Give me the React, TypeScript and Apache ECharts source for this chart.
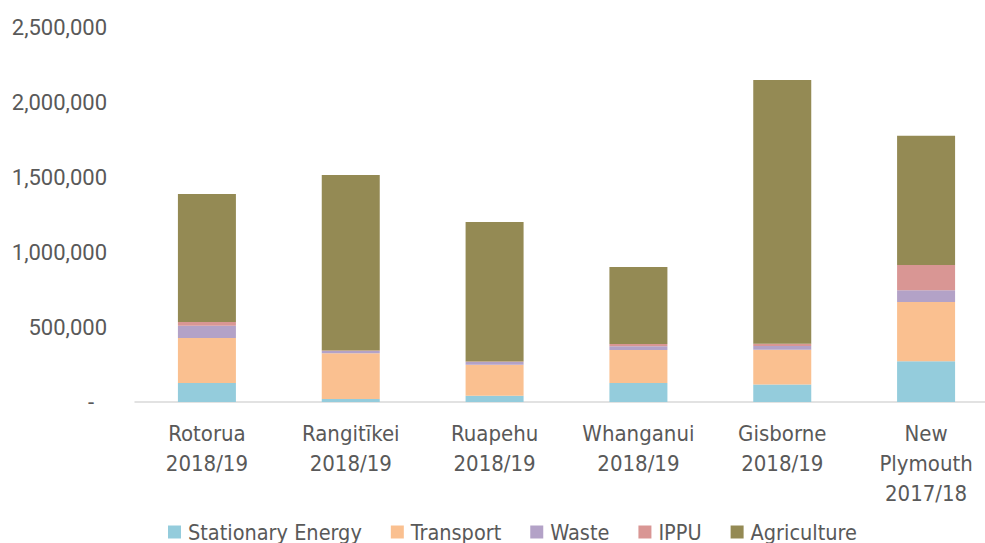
import React, { useEffect, useRef } from "react";
import * as echarts from "echarts";

const categories = [
  "Rotorua\n2018/19",
  "Rangitīkei\n2018/19",
  "Ruapehu\n2018/19",
  "Whanganui\n2018/19",
  "Gisborne\n2018/19",
  "New\nPlymouth\n2017/18",
];
const stationaryEnergy = [127000, 20000, 42000, 127000, 116000, 271000];
const transport = [300000, 305000, 207000, 220000, 233000, 396000];
const waste = [82000, 15000, 18000, 24000, 24000, 78000];
const ippu = [24000, 4000, 3000, 16000, 16000, 168000];
const agriculture = [854000, 1169000, 930000, 513000, 1758000, 862000];

const seriesNames = ["Stationary Energy", "Transport", "Waste", "IPPU", "Agriculture"];
const seriesData = [stationaryEnergy, transport, waste, ippu, agriculture];
const colors = ["#94CCDC", "#FAC090", "#B3A2C7", "#D99694", "#948A54"];

const CAT_FONT = "'DejaVu Sans Condensed', 'Liberation Sans Narrow', sans-serif";

export default function App() {
  const ref = useRef<HTMLDivElement>(null);
  useEffect(() => {
    if (!ref.current) return;
    const chart = echarts.init(ref.current, undefined, { renderer: "svg" });
    chart.setOption({
      animation: false,
      color: colors,
      grid: { left: 135, top: 27, right: 2, bottom: 141 },
      legend: {
        data: seriesNames,
        left: 168,
        top: 520,
        padding: 0,
        itemGap: 29,
        itemWidth: 13,
        itemHeight: 13,
        icon: "rect",
        textStyle: {
          fontFamily: CAT_FONT,
          fontSize: 21.5,
          color: "#595959",
          lineHeight: 24,
          padding: [0, 0, 0, 2],
        },
      },
      xAxis: {
        type: "category",
        data: categories,
        axisLine: { lineStyle: { color: "#d9d9d9", width: 1.5 } },
        axisTick: { show: false },
        axisLabel: {
          interval: 0,
          margin: 16,
          fontFamily: CAT_FONT,
          fontSize: 22,
          lineHeight: 30,
          color: "#595959",
        },
      },
      yAxis: {
        type: "value",
        min: 0,
        max: 2500000,
        interval: 500000,
        splitLine: { show: false },
        axisLine: { show: false },
        axisTick: { show: false },
        axisLabel: {
          margin: 28,
          fontFamily: "Roboto, sans-serif",
          fontSize: 22,
          color: "#595959",
          formatter: (v: number) =>
            v === 0 ? "{d|-}" : v.toLocaleString("en-US"),
          rich: {
            d: {
              fontFamily: "Roboto, sans-serif",
              fontSize: 22,
              color: "#595959",
              padding: [0, 13, 0, 0],
            },
          },
        },
      },
      series: seriesNames.map((name, i) => ({
        name,
        type: "bar",
        stack: "total",
        barWidth: 58,
        data: seriesData[i],
        itemStyle: { color: colors[i] },
      })),
    });
    return () => chart.dispose();
  }, []);
  return (
    <div
      style={{
        position: "fixed",
        left: 0,
        top: 0,
        width: 985,
        height: 543,
        overflow: "hidden",
        background: "#fff",
      }}
    >
      <div ref={ref} style={{ width: 1000, height: 543 }} />
    </div>
  );
}
